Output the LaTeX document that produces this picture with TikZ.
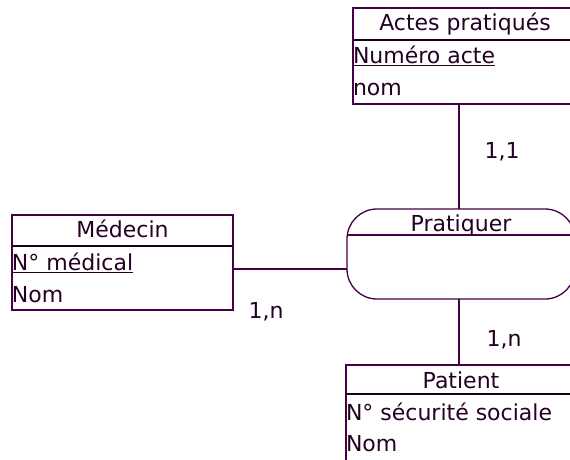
\documentclass[tikz,border=0pt]{standalone}
\usepackage{fontspec}
\setmainfont{DejaVu Sans}
\definecolor{ink}{RGB}{70,0,70}
\definecolor{txt}{RGB}{36,0,36}
\definecolor{rule}{RGB}{28,0,28}
\begin{document}
\begin{tikzpicture}[x=1pt,y=-1pt,
  line width=1.3pt,
  every node/.style={inner sep=0pt,outer sep=0pt},
  entbox/.style={draw=ink,anchor=north west,line width=1.3pt},
  relbox/.style={draw=ink,anchor=north west,rounded corners=30pt,line width=1.3pt},
  hdrline/.style={draw=rule,line width=2.6pt},
  lbl/.style={text=txt,font=\fontsize{22}{25}\selectfont},
  conn/.style={draw=ink,line width=1.3pt}]
\useasboundingbox (0,0) rectangle (570,459);
\fill[white] (0,0) rectangle (570,459);
\begin{scope}
\clip (0,0) rectangle (570,459);

% Entity: Actes pratiqués
\node[entbox,minimum width=224pt,minimum height=96pt] (actes) at (353,8) {};
\draw[hdrline] (353,40) -- (577,40);
\node[lbl,anchor=base] (actesT) at (465,30) {Actes pratiqués};
\node[lbl,anchor=base west] (actesA) at (353,63) {\underline{Numéro acte}};
\node[lbl,anchor=base west] (actesB) at (353,95) {nom};

% Entity: Médecin
\node[entbox,minimum width=221pt,minimum height=95pt] (med) at (12,215) {};
\draw[hdrline] (12,246) -- (233,246);
\node[lbl,anchor=base] (medT) at (122.5,237) {Médecin};
\node[lbl,anchor=base west] (medA) at (12,270) {\underline{N° médical}};
\node[lbl,anchor=base west] (medB) at (12,302) {Nom};

% Relationship: Pratiquer
\node[relbox,minimum width=228pt,minimum height=90pt] (prat) at (347,209) {};
\draw[ink,line width=1.3pt] (347,235) -- (575,235);
\node[lbl,anchor=base] (pratT) at (461,231) {Pratiquer};

% Entity: Patient
\node[entbox,minimum width=230pt,minimum height=100pt] (pat) at (346,365) {};
\draw[hdrline] (346,394) -- (576,394);
\node[lbl,anchor=base] (patT) at (461,388) {Patient};
\node[lbl,anchor=base west] (patA) at (346,420) {N° sécurité sociale};
\node[lbl,anchor=base west] (patB) at (346,451) {Nom};

% Links between entities and the relationship
\coordinate (vlink) at (459,0);
\coordinate (hlink) at (0,269);
\draw[conn] (actes.south -| vlink) -- (prat.north -| vlink);
\draw[conn] (prat.south -| vlink) -- (pat.north -| vlink);
\draw[conn] (med.east |- hlink) -- (prat.west |- hlink);

% Cardinalities
\node[lbl,anchor=base] (c1) at (502,158) {1,1};
\node[lbl,anchor=base] (c2) at (266,318) {1,n};
\node[lbl,anchor=base] (c3) at (504,346) {1,n};
\end{scope}
\end{tikzpicture}
\end{document}
